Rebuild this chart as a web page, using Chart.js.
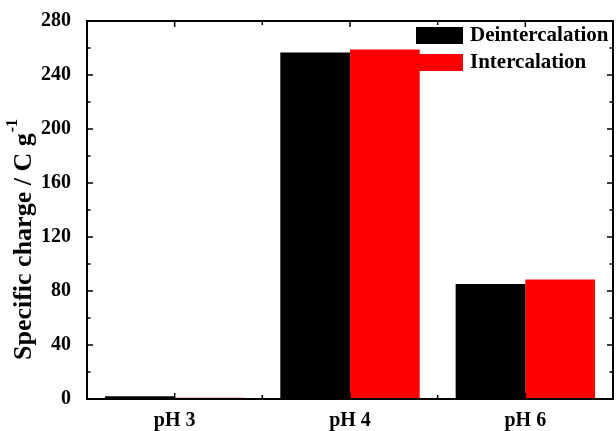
<!DOCTYPE html>
<html>
<head>
<meta charset="utf-8">
<script src="https://cdn.jsdelivr.net/npm/chart.js@4.4.1/dist/chart.umd.min.js"></script>
<style>
  html, body { margin: 0; padding: 0; background: #fff; }
  #wrap { width: 616px; height: 431px; }
</style>
</head>
<body>
<div id="wrap"><canvas id="chart"></canvas></div>
<script>
const categories = ["pH 3", "pH 4", "pH 6"];
const deintercalation = [2.0, 256.6, 85.1];
const intercalation = [1.0, 258.8, 88.6];
const yTicks = [0, 40, 80, 120, 160, 200, 240, 280];

const FONT = "'Liberation Serif', 'Times New Roman', serif";

// frame, inward ticks, axis title and legend
const decor = {
  id: "decor",
  afterDraw(chart) {
    const ctx = chart.ctx;
    const a = chart.chartArea;
    const x = chart.scales.x;
    const y = chart.scales.y;
    ctx.save();
    ctx.strokeStyle = "#000";
    ctx.lineWidth = 2;
    ctx.strokeRect(a.left, a.top, a.right - a.left, a.bottom - a.top);

    ctx.lineWidth = 1.5;
    ctx.beginPath();
    for (let v = 0; v <= 280; v += 20) {
      const py = y.getPixelForValue(v);
      const len = v % 40 === 0 ? 6 : 3.5;
      ctx.moveTo(a.left, py); ctx.lineTo(a.left + len, py);
      ctx.moveTo(a.right, py); ctx.lineTo(a.right - len, py);
    }
    const step = (a.right - a.left) / categories.length;
    for (let i = 0; i < categories.length; i++) {
      const cx = x.getPixelForValue(i);
      ctx.moveTo(cx, a.bottom); ctx.lineTo(cx, a.bottom - 6);
      ctx.moveTo(cx, a.top); ctx.lineTo(cx, a.top + 6);
      if (i > 0) {
        const bx = cx - step / 2;
        ctx.moveTo(bx, a.bottom); ctx.lineTo(bx, a.bottom - 4);
        ctx.moveTo(bx, a.top); ctx.lineTo(bx, a.top + 4);
      }
    }
    ctx.stroke();

    // y axis title
    ctx.fillStyle = "#000";
    ctx.translate(24, 240);
    ctx.rotate(-Math.PI / 2);
    const main = "Specific charge / C g";
    ctx.font = "bold 26px " + FONT;
    const wMain = ctx.measureText(main).width;
    ctx.font = "bold 16px " + FONT;
    const wSup = ctx.measureText("-1").width;
    const start = -(wMain + wSup) / 2;
    ctx.textBaseline = "middle";
    ctx.textAlign = "left";
    ctx.font = "bold 26px " + FONT;
    ctx.fillText(main, start, 0);
    ctx.font = "bold 16px " + FONT;
    ctx.fillText("-1", start + wMain + 1, -11);
    ctx.restore();

    // legend
    ctx.save();
    ctx.font = "bold 21px " + FONT;
    ctx.textBaseline = "middle";
    ctx.textAlign = "left";
    const rows = [27, 54];
    chart.data.datasets.forEach((ds, i) => {
      ctx.fillStyle = ds.backgroundColor;
      ctx.fillRect(416, rows[i], 47, 17);
      ctx.fillStyle = "#000";
      ctx.fillText(ds.label, 470, rows[i] + 9);
    });
    ctx.restore();
  }
};

new Chart(document.getElementById("chart"), {
  type: "bar",
  data: {
    labels: categories,
    datasets: [
      { label: "Deintercalation", data: deintercalation, backgroundColor: "#000000" },
      { label: "Intercalation", data: intercalation, backgroundColor: "#ff0000" }
    ]
  },
  options: {
    responsive: true,
    maintainAspectRatio: false,
    animation: false,
    layout: { padding: { top: 21, right: 3, left: 0, bottom: 0 } },
    plugins: {
      legend: { display: false },
      tooltip: { enabled: false }
    },
    datasets: {
      bar: { categoryPercentage: 0.795, barPercentage: 1.0 }
    },
    scales: {
      x: {
        grid: { display: false },
        border: { display: false },
        ticks: {
          color: "#000",
          padding: 2,
          font: { family: FONT, size: 20, weight: "bold" }
        },
        afterFit(scale) { scale.height = 32; }
      },
      y: {
        min: 0,
        max: 280,
        afterBuildTicks(scale) { scale.ticks = yTicks.map(v => ({ value: v })); },
        grid: { display: false },
        border: { display: false },
        ticks: {
          color: "#000",
          padding: 8,
          font: { family: FONT, size: 20, weight: "bold" }
        },
        afterFit(scale) { scale.width = 87; }
      }
    }
  },
  plugins: [decor]
});
</script>
</body>
</html>
